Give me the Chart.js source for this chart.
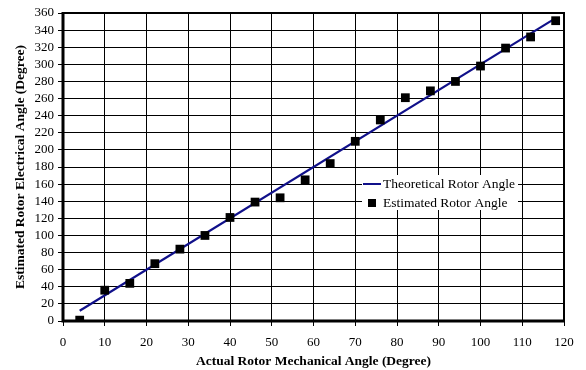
<!DOCTYPE html>
<html>
<head>
<meta charset="utf-8">
<script src="https://cdn.jsdelivr.net/npm/chart.js@4/dist/chart.umd.min.js"></script>
<style>
html,body{margin:0;padding:0;background:#fff;}
#wrap{width:586px;height:370px;position:relative;}
</style>
</head>
<body>
<div id="wrap"><canvas id="c" width="586" height="370"></canvas></div>
<script>
const mechAngles = [4, 10, 16, 22, 28, 34, 40, 46, 52, 58, 64, 70, 76, 82, 88, 94, 100, 106, 112, 118];
const estimatedAngles = [1, 36, 44, 67, 84, 100, 121, 139, 144, 165, 184, 210, 235, 261, 269, 280, 298, 319, 332, 351];
const theoreticalX = [4, 118];
const theoreticalY = [12, 354];
const xTickLabels = [0, 10, 20, 30, 40, 50, 60, 70, 80, 90, 100, 110, 120];
const yTickLabels = [0, 20, 40, 60, 80, 100, 120, 140, 160, 180, 200, 220, 240, 260, 280, 300, 320, 340, 360];
const seriesNames = ['Theoretical Rotor Angle', 'Estimated Rotor Angle'];

const FONT = "'Liberation Serif', 'Times New Roman', serif";

const framePlugin = {
  id: 'frame',
  afterDatasetsDraw(chart) {
    const {ctx, chartArea: a} = chart;
    ctx.save();
    ctx.strokeStyle = '#000';
    ctx.lineWidth = 2;
    ctx.beginPath();
    ctx.moveTo(a.left, a.top);
    ctx.lineTo(a.right, a.top);
    ctx.lineTo(a.right, a.bottom);
    ctx.stroke();
    ctx.lineWidth = 3;
    ctx.beginPath();
    ctx.moveTo(a.left, a.top - 1);
    ctx.lineTo(a.left, a.bottom);
    ctx.lineTo(a.right + 1, a.bottom);
    ctx.stroke();
    ctx.restore();
  },
  afterDraw(chart) {
    const {ctx} = chart;
    const ds = chart.data.datasets;
    const x0 = 362, y0 = 175, w = 156, h = 35;
    ctx.save();
    ctx.fillStyle = '#fff';
    ctx.fillRect(x0, y0, w, h);
    ctx.font = '13.5px ' + FONT;
    ctx.textBaseline = 'middle';
    ctx.textAlign = 'left';
    ctx.strokeStyle = ds[0].borderColor;
    ctx.lineWidth = 2;
    ctx.beginPath();
    ctx.moveTo(363, 184);
    ctx.lineTo(381, 184);
    ctx.stroke();
    ctx.fillStyle = '#000';
    ctx.fillText(ds[0].label, 383, 184);
    ctx.fillRect(368, 199, 8, 8);
    ctx.fillText(ds[1].label, 383, 203);
    ctx.restore();
  }
};

new Chart(document.getElementById('c'), {
  type: 'scatter',
  data: {
    datasets: [
      {
        label: seriesNames[0],
        type: 'line',
        data: theoreticalX.map((x, i) => ({x, y: theoreticalY[i]})),
        borderColor: '#10108a',
        borderWidth: 2.2,
        pointRadius: 0,
        fill: false,
        order: 2
      },
      {
        label: seriesNames[1],
        data: mechAngles.map((x, i) => ({x, y: estimatedAngles[i]})),
        pointStyle: 'rect',
        pointRadius: 6.2,
        backgroundColor: '#000',
        borderColor: '#000',
        borderWidth: 0,
        order: 1
      }
    ]
  },
  options: {
    responsive: false,
    animation: false,
    layout: {padding: {top: 13, right: 22, left: 0, bottom: 0}},
    plugins: {
      legend: {display: false},
      tooltip: {enabled: false}
    },
    scales: {
      x: {
        type: 'linear',
        min: 0, max: 120,
        afterBuildTicks(s) { s.ticks = xTickLabels.map(v => ({value: v})); },
        afterFit(s) { s.height = 49; },
        ticks: {
          color: '#000',
          font: {family: FONT, size: 13},
          padding: 9,
          maxRotation: 0,
          autoSkip: false
        },
        grid: {color: '#000', lineWidth: 1, tickLength: 5, drawTicks: true},
        border: {display: false},
        title: {
          display: true,
          text: 'Actual Rotor Mechanical Angle (Degree)',
          color: '#000',
          font: {family: FONT, size: 13.5, weight: 'bold'},
          padding: {top: 4, bottom: 0}
        }
      },
      y: {
        type: 'linear',
        min: 0, max: 360,
        afterBuildTicks(s) { s.ticks = yTickLabels.map(v => ({value: v})); },
        afterFit(s) { s.width = 63; },
        ticks: {
          color: '#000',
          font: {family: FONT, size: 13},
          padding: 4,
          autoSkip: false
        },
        grid: {color: '#000', lineWidth: 1, tickLength: 5, drawTicks: true},
        border: {display: false},
        title: {
          display: true,
          text: 'Estimated Rotor Electrical Angle (Degree)',
          color: '#000',
          font: {family: FONT, size: 13.5, weight: 'bold'},
          padding: {top: 12, bottom: 0}
        }
      }
    }
  },
  plugins: [framePlugin]
});
</script>
</body>
</html>
